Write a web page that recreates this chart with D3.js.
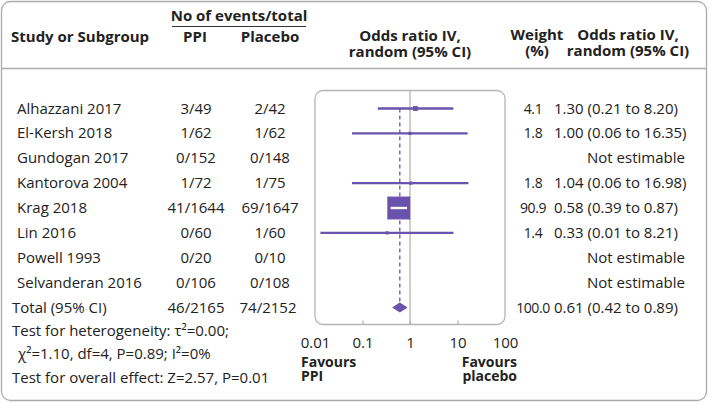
<!DOCTYPE html>
<html>
<head>
<meta charset="utf-8">
<script src="https://cdn.jsdelivr.net/npm/d3@7"></script>
<style>
  body { margin: 0; background: #fff; }
  text { font-family: "Open Sans", sans-serif; font-size: 15px; fill: #222; }
  .bold { font-weight: 700; }
  .small { font-size: 14px; }
  .wt { font-size: 14px; letter-spacing: -0.4px; }
</style>
</head>
<body>
<svg id="chart" width="709" height="403"></svg>
<script>
// study rows
var studies = ['Alhazzani 2017', 'El-Kersh 2018', 'Gundogan 2017', 'Kantorova 2004',
    'Krag 2018', 'Lin 2016', 'Powell 1993', 'Selvanderan 2016'];
var ppiEvents = ['3/49', '1/62', '0/152', '1/72', '41/1644', '0/60', '0/20', '0/106'];
var placeboEvents = ['2/42', '1/62', '0/148', '1/75', '69/1647', '1/60', '0/10', '0/108'];
var weights = [4.1, 1.8, null, 1.8, 90.9, 1.4, null, null];
var oddsRatio = [1.30, 1.00, null, 1.04, 0.58, 0.33, null, null];
var ciLow = [0.21, 0.06, null, 0.06, 0.39, 0.013, null, null];
var ciHigh = [8.20, 16.35, null, 16.98, 0.87, 8.21, null, null];

// pooled result
var totalPpi = '46/2165';
var totalPlacebo = '74/2152';
var totalWeight = 100.0;
var pooled = { or: 0.61, lo: 0.42, hi: 0.89 };

var axisTicks = [0.01, 0.1, 1, 10, 100];
var tickLabels = ['0.01', '0.1', '1', '10', '100'];
var statLines = ['Test for heterogeneity: \u03c4\u00b2=0.00;',
    '\u03c7\u00b2=1.10, df=4, P=0.89; I\u00b2=0%',
    'Test for overall effect: Z=2.57, P=0.01'];

var purple = '#6a53ad';
var grey = '#b5b5b5';

var svg = d3.select('#chart');

// frame + header rule
svg.append('rect')
    .attr('x', 1.5).attr('y', 1.5).attr('width', 705).attr('height', 399)
    .attr('rx', 9).attr('fill', '#fff').attr('stroke', '#aaa').attr('stroke-width', 1.3);
svg.append('line')
    .attr('x1', 1.5).attr('x2', 706.5).attr('y1', 68.5).attr('y2', 68.5)
    .attr('stroke', '#aaa').attr('stroke-width', 1.3);

var x = d3.scaleLog().domain([0.01, 100]).range([315, 505]);
var y = d3.scaleLinear().domain([0, 8]).range([108.5, 307.5]);

function label(txt, px, py, anchor, cls) {
    return svg.append('text')
        .attr('x', px).attr('y', py)
        .attr('text-anchor', anchor || 'start')
        .attr('class', cls || null)
        .text(txt);
}

// headers
label('Study or Subgroup', 11, 42, 'start', 'bold');
label('No of events/total', 239, 21, 'middle', 'bold');
svg.append('line')
    .attr('x1', 172).attr('x2', 306).attr('y1', 26.5).attr('y2', 26.5)
    .attr('stroke', '#333').attr('stroke-width', 1);
label('PPI', 195, 42, 'middle', 'bold');
label('Placebo', 270, 42, 'middle', 'bold');
label('Odds ratio IV,', 410, 41, 'middle', 'bold');
label('random (95% CI)', 410, 57, 'middle', 'bold');
label('Weight', 537, 40, 'middle', 'bold');
label('(%)', 537, 56, 'middle', 'bold');
label('Odds ratio IV,', 628, 40, 'middle', 'bold');
label('random (95% CI)', 628, 56, 'middle', 'bold');

// plot box
svg.append('rect')
    .attr('x', x(0.01)).attr('y', 90.5)
    .attr('width', x(100) - x(0.01)).attr('height', 234)
    .attr('rx', 8).attr('fill', 'none').attr('stroke', grey).attr('stroke-width', 1.3);

// axis (ticks point up into the box)
var axis = d3.axisBottom(x)
    .tickValues(axisTicks)
    .tickSize(-4)
    .tickPadding(13)
    .tickFormat(function (d, i) { return tickLabels[i]; });
var gAxis = svg.append('g')
    .attr('transform', 'translate(0,324.5)')
    .call(axis);
gAxis.select('.domain').remove();
gAxis.selectAll('.tick line')
    .attr('stroke', grey).attr('stroke-width', 1.3)
    .filter(function (d) { return d === 0.01 || d === 100; }).remove();
gAxis.selectAll('.tick text')
    .attr('font-family', '"Open Sans", sans-serif')
    .attr('font-size', 15).attr('fill', '#222');

// line of no effect
svg.append('line')
    .attr('x1', x(1)).attr('x2', x(1)).attr('y1', 90.5).attr('y2', 324.5)
    .attr('stroke', grey).attr('stroke-width', 1.3);

// pooled estimate dashed line
svg.append('line')
    .attr('x1', x(pooled.or)).attr('x2', x(pooled.or))
    .attr('y1', y(0)).attr('y2', y(8) - 4)
    .attr('stroke', purple).attr('stroke-width', 1.3)
    .attr('stroke-dasharray', '4,3');

var f = d3.format('.2f');

// study rows
studies.forEach(function (name, i) {
    var cy = y(i);
    label(name, 17, cy + 5);
    label(ppiEvents[i], 196, cy + 5, 'middle');
    label(placeboEvents[i], 270, cy + 5, 'middle');
    if (oddsRatio[i] == null) {
        label('Not estimable', 587, cy + 5);
        return;
    }
    label(d3.format('.1f')(weights[i]), 533, cy + 5, 'middle', 'wt');
    label(f(oddsRatio[i]) + ' (' + f(ciLow[i]) + ' to ' + f(ciHigh[i]) + ')', 554, cy + 5);

    svg.append('line')
        .attr('x1', x(ciLow[i])).attr('x2', x(ciHigh[i]))
        .attr('y1', cy).attr('y2', cy)
        .attr('stroke', purple).attr('stroke-width', 2.4);
    var s = Math.max(3.2, 2.4 * Math.sqrt(weights[i]));
    svg.append('rect')
        .attr('x', x(oddsRatio[i]) - s / 2).attr('y', cy - s / 2)
        .attr('width', s).attr('height', s)
        .attr('fill', purple);
    // CI shown in white where the box covers it
    if (s > 10) {
        var a = Math.max(x(ciLow[i]), x(oddsRatio[i]) - s / 2 + 3);
        var b = Math.min(x(ciHigh[i]), x(oddsRatio[i]) + s / 2 - 3);
        svg.append('line')
            .attr('x1', a).attr('x2', b).attr('y1', cy).attr('y2', cy)
            .attr('stroke', '#fff').attr('stroke-width', 2.4);
    }
});

// total row
var ty = y(8);
label('Total (95% CI)', 12, ty + 5);
label(totalPpi, 196, ty + 5, 'middle');
label(totalPlacebo, 268, ty + 5, 'middle');
label(d3.format('.1f')(totalWeight), 533, ty + 5, 'middle', 'wt');
label(f(pooled.or) + ' (' + f(pooled.lo) + ' to ' + f(pooled.hi) + ')', 554, ty + 5);
svg.append('path')
    .attr('d', d3.line()([
        [x(pooled.lo), ty], [x(pooled.or), ty - 5],
        [x(pooled.hi), ty], [x(pooled.or), ty + 5]
    ]) + 'Z')
    .attr('fill', purple);

// statistics
label(statLines[0], 12, 336);
label(statLines[1], 18, 359);
label(statLines[2], 12, 383);

// favours labels
label('Favours', 301, 367, 'start', 'bold small');
label('PPI', 301, 381, 'start', 'bold small');
label('Favours', 517, 367, 'end', 'bold small');
label('placebo', 517, 381, 'end', 'bold small');
</script>
</body>
</html>
